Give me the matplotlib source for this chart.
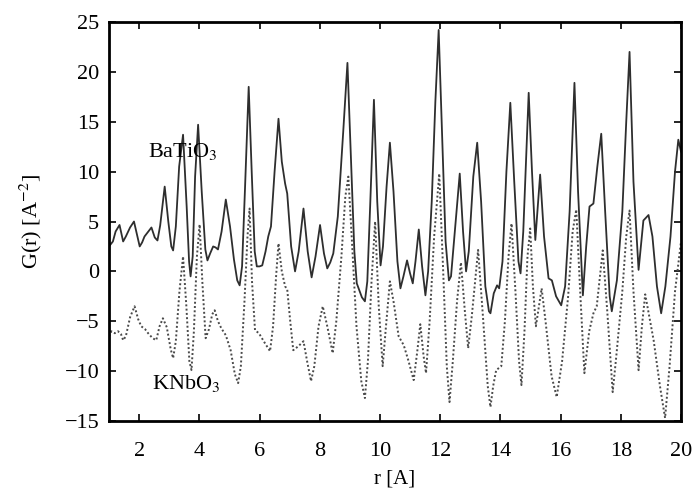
import matplotlib
matplotlib.use("Agg")
import matplotlib.pyplot as plt

plt.rcParams['font.family'] = ['Liberation Serif', 'DejaVu Serif']
plt.rcParams['mathtext.fontset'] = 'stix'

# BaTiO3 (solid), points
r_batio3 = [1.00, 1.13, 1.22, 1.35, 1.47, 1.56, 1.70, 1.83, 1.95, 2.02, 2.10, 2.18, 2.41, 2.52,
            2.61, 2.70, 2.85, 2.97, 3.07, 3.13, 3.22, 3.33, 3.46, 3.58, 3.66, 3.71, 3.78, 3.86,
            3.96, 4.08, 4.20, 4.27, 4.36, 4.46, 4.54, 4.62, 4.74, 4.88, 5.02, 5.15, 5.26, 5.34,
            5.42, 5.52, 5.64, 5.74, 5.84, 5.91, 6.00, 6.09, 6.20, 6.29, 6.38, 6.50, 6.63, 6.74,
            6.85, 6.92, 7.05, 7.18, 7.30, 7.46, 7.60, 7.73, 7.86, 8.01, 8.14, 8.25, 8.35, 8.45,
            8.60, 8.78, 8.92, 9.04, 9.15, 9.23, 9.40, 9.50, 9.58, 9.68, 9.80, 9.91, 10.02, 10.10,
            10.22, 10.33, 10.45, 10.58, 10.68, 10.78, 10.90, 11.00, 11.09, 11.18, 11.29, 11.40,
            11.51, 11.60, 11.72, 11.84, 11.95, 12.06, 12.18, 12.29, 12.36, 12.50, 12.65, 12.76,
            12.86, 12.95, 13.10, 13.23, 13.36, 13.50, 13.62, 13.67, 13.78, 13.89, 13.96, 14.07,
            14.20, 14.33, 14.46, 14.60, 14.67, 14.76, 14.94, 15.05, 15.16, 15.24, 15.32, 15.45,
            15.60, 15.71, 15.85, 16.02, 16.15, 16.30, 16.46, 16.58, 16.74, 16.85, 16.96, 17.09,
            17.22, 17.35, 17.48, 17.63, 17.70, 17.87, 18.05, 18.18, 18.29, 18.42, 18.59, 18.75,
            18.92, 19.05, 19.20, 19.34, 19.48, 19.65, 19.80, 19.91, 20.00]
g_batio3 = [2.5, 3.0, 4.0, 4.65, 3.0, 3.5, 4.4, 5.0, 3.4, 2.5, 2.9, 3.5, 4.4, 3.4,
            3.1, 4.6, 8.5, 5.0, 2.5, 2.1, 4.5, 10.5, 13.7, 6.5, 1.0, -0.5, 1.5, 9.5,
            14.7, 8.0, 2.2, 1.1, 1.8, 2.5, 2.4, 2.2, 4.0, 7.2, 4.5, 1.2, -0.9, -1.4,
            0.5, 8.5, 18.5, 10.0, 2.0, 0.5, 0.5, 0.6, 2.0, 3.5, 4.5, 10.0, 15.3, 11.0,
            8.8, 7.8, 2.5, 0.0, 2.0, 6.3, 2.0, -0.6, 1.5, 4.65, 1.8, 0.3, 0.9, 1.8,
            5.5, 14.0, 20.9, 11.0, 2.0, -1.2, -2.6, -3.0, -1.0, 7.0, 17.2, 7.0, 0.6, 2.5,
            8.5, 12.9, 8.0, 1.0, -1.7, -0.5, 1.1, -0.2, -1.2, 1.0, 4.2, 0.5,
            -2.4, 0.0, 7.0, 17.0, 24.2, 14.0, 3.0, -0.9, -0.5, 4.5, 9.8, 4.0,
            0.0, 2.0, 9.5, 12.9, 7.0, -1.5, -4.0, -4.2, -2.2, -1.4, -1.7, 1.0,
            10.0, 16.9, 9.0, 1.0, -0.2, 4.0, 17.9, 10.0, 3.15, 6.5, 9.7, 3.5,
            -0.7, -0.9, -2.5, -3.4, -1.5, 6.0, 18.9, 8.0, -2.4, 2.5, 6.5, 6.8,
            10.5, 13.8, 6.0, -2.5, -4.0, -0.9, 6.0, 15.0, 22.0, 9.0, 0.15, 5.1,
            5.65, 3.5, -1.5, -4.2, -1.5, 3.5, 10.0, 13.2, 12.0]

# KNbO3 (dotted), points
r_knbo3 = [1.00, 1.08, 1.19, 1.30, 1.40, 1.47, 1.56, 1.70, 1.85, 1.97, 2.07, 2.20, 2.30, 2.45,
           2.57, 2.68, 2.79, 2.92, 3.05, 3.13, 3.22, 3.34, 3.46, 3.57, 3.67, 3.74, 3.82, 3.92,
           4.01, 4.10, 4.21, 4.32, 4.43, 4.51, 4.62, 4.73, 4.88, 5.04, 5.18, 5.29, 5.38, 5.50,
           5.60, 5.67, 5.75, 5.85, 5.98, 6.18, 6.35, 6.45, 6.55, 6.63, 6.74, 6.85, 6.92, 7.02,
           7.12, 7.29, 7.46, 7.58, 7.71, 7.82, 7.96, 8.10, 8.25, 8.43, 8.55, 8.72, 8.85, 8.95,
           9.07, 9.22, 9.38, 9.50, 9.60, 9.72, 9.84, 9.96, 10.09, 10.20, 10.33, 10.45, 10.62,
           10.79, 10.95, 11.12, 11.24, 11.34, 11.45, 11.53, 11.65, 11.80, 11.97, 12.10, 12.22,
           12.31, 12.42, 12.56, 12.69, 12.82, 12.93, 13.05, 13.26, 13.42, 13.58, 13.67, 13.76,
           13.86, 14.03, 14.15, 14.27, 14.37, 14.50, 14.62, 14.70, 14.80, 14.90, 14.99, 15.08,
           15.18, 15.37, 15.50, 15.70, 15.87, 16.05, 16.25, 16.40, 16.52, 16.65, 16.79, 16.95,
           17.09, 17.20, 17.40, 17.55, 17.73, 17.85, 18.05, 18.18, 18.29, 18.42, 18.59, 18.70,
           18.81, 19.09, 19.30, 19.47, 19.62, 19.80, 20.00]
g_knbo3 = [-6.5, -6.0, -6.2, -6.0, -6.3, -6.9, -6.5, -4.6, -3.5, -4.8, -5.5, -5.8, -6.2, -6.7,
           -6.9, -5.5, -4.7, -5.6, -7.8, -8.7, -7.0, -2.0, 1.5, -3.5, -9.0, -9.9, -6.0, 1.5,
           4.7, -1.0, -6.7, -5.8, -4.3, -3.9, -5.0, -5.7, -6.4, -7.9, -10.3, -11.2, -9.5, -3.0,
           3.5, 6.3, -1.0, -5.9, -6.2, -7.2, -8.0, -5.5, -0.5, 2.8, 0.0, -1.5, -1.8, -5.0,
           -7.9, -7.5, -7.0, -9.0, -11.0, -9.5, -5.5, -3.5, -5.5, -8.2, -5.0, 1.5, 7.5, 9.5,
           3.0, -5.5, -11.0, -12.7, -9.0, -1.0, 5.0, -3.5, -9.5, -5.5, -1.0, -3.0, -6.5,
           -7.4, -9.0, -10.9, -8.0, -5.3, -8.5, -10.2, -5.0, 3.5, 9.8, 0.0, -9.5,
           -13.1, -9.0, -3.0, 0.9, -4.0, -7.7, -4.5, 2.15, -4.5, -11.5, -13.6, -11.5,
           -9.9, -9.5, -5.0, 1.5, 4.8, -2.0, -9.0, -11.4, -6.0, 1.5, 4.3, -1.5,
           -5.5, -1.7, -5.0, -10.5, -12.6, -9.0, -2.5, 4.0, 6.2, -2.0, -10.2, -6.0,
           -4.2, -3.5, 2.1, -4.0, -12.1, -8.5, -2.0, 3.5, 6.1, -2.0, -9.9, -5.5,
           -2.3, -6.9, -11.5, -14.7, -9.5, -2.0, 3.0]

x_ticks = [2, 4, 6, 8, 10, 12, 14, 16, 18, 20]
y_ticks = [-15, -10, -5, 0, 5, 10, 15, 20, 25]

fig = plt.figure(figsize=(7.0, 4.93), dpi=100)
ax = fig.add_axes([0.1557, 0.146, 0.8172, 0.8094])

ax.plot(r_batio3, g_batio3, color='#2e2e2e', lw=1.3, ls='-', solid_joinstyle='round')
ax.plot(r_knbo3, g_knbo3, color='#4a4a4a', lw=1.4, ls=(0, (1, 1.2)))

ax.set_xlim(1, 20)
ax.set_ylim(-15, 25)
ax.set_xticks(x_ticks)
ax.set_yticks(y_ticks)
ax.tick_params(direction='in', top=True, right=True, length=5, width=1.2, labelsize=16)
ax.tick_params(axis='x', pad=15)
ax.tick_params(axis='y', pad=7)
for s in ax.spines.values():
    s.set_linewidth(2.0)

ax.text(3.45, 12.0, r'BaTiO$_3$', fontsize=16, ha='center', va='center')
ax.text(3.58, -11.2, r'KNbO$_3$', fontsize=16, ha='center', va='center')

ax.set_xlabel('r [A]', fontsize=15, labelpad=6)
ax.set_ylabel(r'G(r) [A$^{-2}$]', fontsize=16, labelpad=15)

fig.savefig('out.png', dpi=100)
